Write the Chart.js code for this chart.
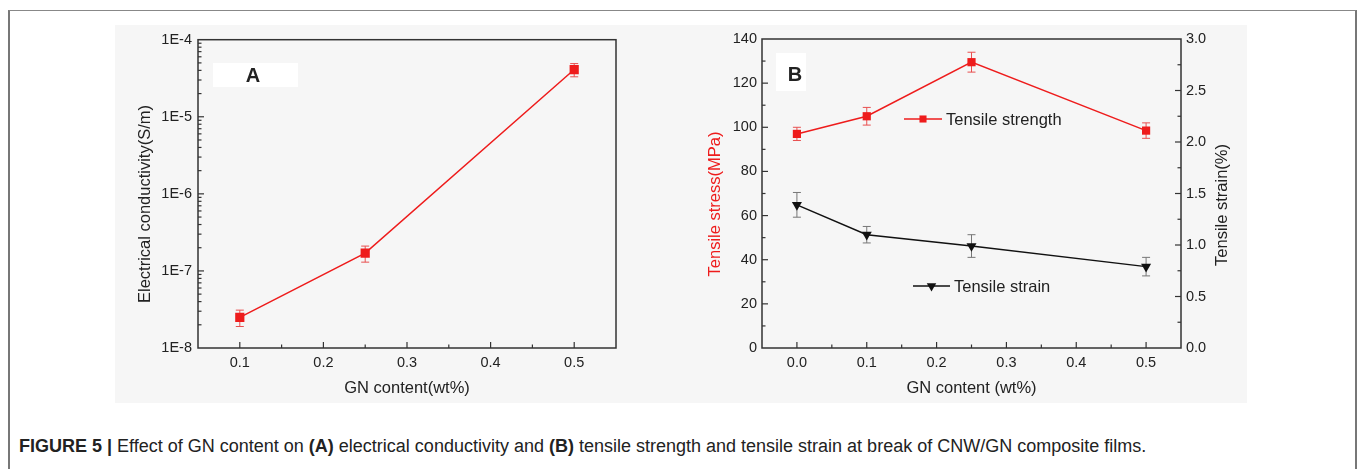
<!DOCTYPE html>
<html>
<head>
<meta charset="utf-8">
<script src="https://cdn.jsdelivr.net/npm/chart.js@4.4.0/dist/chart.umd.min.js"></script>
<style>
  body { margin: 0; background: #fff; width: 1360px; height: 469px; overflow: hidden; position: relative;
         font-family: "Liberation Sans", Arial, sans-serif; }
  #frame { position: absolute; left: 8px; top: 10px; width: 1345px; height: 480px;
           border-left: 2px solid #777; border-top: 1px solid #888; border-right: 2px solid #777; }
  #fig { position: absolute; left: 115px; top: 25px; width: 1132px; height: 378px; background: #f6f6f6; }
  #chartA { position: absolute; left: 115px; top: 25px; }
  #chartB { position: absolute; left: 660px; top: 25px; }
  #caption { position: absolute; left: 19px; top: 436px; font-size: 18px; color: #222; white-space: nowrap; }
  #caption b { font-weight: bold; }
</style>
</head>
<body>
<div id="frame"></div>
<div id="fig"></div>
<canvas id="chartA" width="545" height="378"></canvas>
<canvas id="chartB" width="587" height="378"></canvas>
<div id="caption"><b>FIGURE 5 |</b> Effect of GN content on <b>(A)</b> electrical conductivity and <b>(B)</b> tensile strength and tensile strain at break of CNW/GN composite films.</div>

<script>
// panel A: conductivity vs GN content
const gnA = [0.1, 0.25, 0.5];
const conductivity = [2.5e-8, 1.7e-7, 4.1e-5];
const conductivityErr = [0.6e-8, 0.4e-7, 0.8e-5];
const decadeExps = [-8, -7, -6, -5, -4];

// panel B: tensile stress / strain vs GN content
const gnB = [0, 0.1, 0.25, 0.5];
const strength = [97, 105, 129.5, 98.5];
const strengthErr = [3, 4, 4.5, 3.5];
const strain = [1.39, 1.1, 0.99, 0.79];
const strainErr = [0.12, 0.08, 0.11, 0.09];

const RED = "#ee1c1c";
const INK = "#222";
Chart.defaults.font.family = '"Liberation Sans", Arial, sans-serif';
Chart.defaults.color = INK;

const near = (v, step) => Math.abs(v / step - Math.round(v / step)) < 1e-6;

// log ticks 1..9 per decade
const logTicks = [];
decadeExps.forEach(e => {
  for (let m = 1; m <= 9; m++) {
    const v = m * Math.pow(10, e);
    if (v <= Math.pow(10, decadeExps[decadeExps.length - 1]) * 1.0001) logTicks.push(v);
  }
});

// error bars, drawn under the points
const errorBars = {
  id: "errorBars",
  beforeDatasetsDraw(chart) {
    const ctx = chart.ctx;
    chart.data.datasets.forEach((ds, i) => {
      if (!ds.errors) return;
      const meta = chart.getDatasetMeta(i);
      const ys = chart.scales[meta.yAxisID];
      ctx.save();
      ctx.strokeStyle = ds.errColor;
      ctx.lineWidth = 1;
      meta.data.forEach((pt, j) => {
        const v = ds.data[j].y, e = ds.errors[j];
        const top = ys.getPixelForValue(v + e), bot = ys.getPixelForValue(v - e);
        ctx.beginPath();
        ctx.moveTo(pt.x, top); ctx.lineTo(pt.x, bot);
        ctx.moveTo(pt.x - 4, top); ctx.lineTo(pt.x + 4, top);
        ctx.moveTo(pt.x - 4, bot); ctx.lineTo(pt.x + 4, bot);
        ctx.stroke();
      });
      ctx.restore();
    });
  }
};

// box frame, inward ticks, titles and free text
const deco = {
  id: "deco",
  beforeDatasetsDraw(chart, args, opts) {
    const ctx = chart.ctx, a = chart.chartArea;
    ctx.save();
    (opts.boxes || []).forEach(b => {
      ctx.fillStyle = "#fff";
      ctx.fillRect(b[0], b[1], b[2], b[3]);
    });
    ctx.strokeStyle = "#333";
    ctx.lineWidth = 1.5;
    ctx.strokeRect(a.left, a.top, a.right - a.left, a.bottom - a.top);
    ctx.lineWidth = 1.2;
    Object.values(chart.scales).forEach(s => {
      s.ticks.forEach(t => {
        const len = t.label ? 6 : 3.5;
        const p = s.getPixelForValue(t.value);
        ctx.beginPath();
        if (s.isHorizontal()) {
          if (p < a.left + 1 || p > a.right - 1) return;
          ctx.moveTo(p, a.bottom); ctx.lineTo(p, a.bottom - len);
        } else {
          if (p < a.top + 1 || p > a.bottom - 1) return;
          if (s.position === "right") { ctx.moveTo(a.right, p); ctx.lineTo(a.right - len, p); }
          else { ctx.moveTo(a.left, p); ctx.lineTo(a.left + len, p); }
        }
        ctx.stroke();
      });
    });
    ctx.restore();
  },
  afterDraw(chart, args, opts) {
    const ctx = chart.ctx;
    ctx.save();
    (opts.texts || []).forEach(t => {
      ctx.save();
      ctx.translate(t.x, t.y);
      if (t.rot) ctx.rotate(t.rot);
      ctx.font = t.font;
      ctx.fillStyle = t.color || INK;
      ctx.textAlign = t.align || "center";
      ctx.textBaseline = "middle";
      ctx.fillText(t.text, 0, 0);
      ctx.restore();
    });
    (opts.legend || []).forEach(l => {
      ctx.strokeStyle = l.color;
      ctx.fillStyle = l.color;
      ctx.lineWidth = 1.5;
      ctx.beginPath();
      ctx.moveTo(l.x0, l.y); ctx.lineTo(l.x1, l.y);
      ctx.stroke();
      Chart.helpers.drawPoint(ctx, { pointStyle: l.style, radius: l.r, rotation: l.rotation || 0, borderWidth: 0 },
        (l.x0 + l.x1) / 2, l.y);
      ctx.fillStyle = INK;
      ctx.font = "16.5px " + Chart.defaults.font.family;
      ctx.textAlign = "left";
      ctx.textBaseline = "middle";
      ctx.fillText(l.text, l.x1 + 4, l.y + 1);
    });
    ctx.restore();
  }
};

const tickFont = { size: 14.5 };
const titleFont = "16.5px " + Chart.defaults.font.family;
const noGrid = { display: false, drawTicks: false };

new Chart(document.getElementById("chartA"), {
  type: "line",
  data: {
    datasets: [{
      data: gnA.map((x, i) => ({ x, y: conductivity[i] })),
      errors: conductivityErr,
      errColor: "#e85050",
      borderColor: RED,
      backgroundColor: RED,
      borderWidth: 1.5,
      pointStyle: "rect",
      pointRadius: 6.5,
      pointBorderWidth: 0,
    }],
  },
  options: {
    responsive: false,
    animation: false,
    events: [],
    layout: { padding: { top: 14, right: 44 } },
    plugins: {
      legend: { display: false },
      tooltip: { enabled: false },
      deco: {
        boxes: [[98, 38, 85, 24]],
        texts: [
          { text: "A", x: 138, y: 51, font: "bold 20px " + Chart.defaults.font.family },
          { text: "Electrical conductivity(S/m)", x: 30, y: 179, rot: -Math.PI / 2, font: titleFont },
        ],
      },
    },
    scales: {
      x: {
        type: "linear", min: 0.05, max: 0.55,
        grid: noGrid, border: { display: false },
        ticks: { stepSize: 0.05, autoSkip: false, maxRotation: 0, padding: 6, font: tickFont,
                 callback: v => near(v, 0.1) ? v.toFixed(1) : "" },
        title: { display: true, text: "GN content(wt%)", font: { size: 16.5 }, padding: { top: 0, bottom: 5 } },
        afterFit: s => { s.height = 55; },
      },
      y: {
        type: "logarithmic", min: 1e-8, max: 1e-4,
        grid: noGrid, border: { display: false },
        afterBuildTicks: s => { s.ticks = logTicks.map(v => ({ value: v })); },
        ticks: { autoSkip: false, padding: 6, font: tickFont,
                 callback: v => { const e = Math.log10(v); return Math.abs(e - Math.round(e)) < 1e-6 ? "1E" + Math.round(e) : ""; } },
        afterFit: s => { s.width = 83; },
      },
    },
  },
  plugins: [deco, errorBars],
});

new Chart(document.getElementById("chartB"), {
  type: "line",
  data: {
    datasets: [
      {
        data: gnB.map((x, i) => ({ x, y: strength[i] })),
        yAxisID: "y",
        errors: strengthErr,
        errColor: "#e85050",
        borderColor: RED,
        backgroundColor: RED,
        borderWidth: 1.5,
        pointStyle: "rect",
        pointRadius: 5.8,
        pointBorderWidth: 0,
      },
      {
        data: gnB.map((x, i) => ({ x, y: strain[i] })),
        yAxisID: "y2",
        errors: strainErr,
        errColor: "#777",
        borderColor: "#111",
        backgroundColor: "#111",
        borderWidth: 1.5,
        pointStyle: "triangle",
        pointRotation: 180,
        pointRadius: 5.8,
        pointBorderWidth: 0,
      },
    ],
  },
  options: {
    responsive: false,
    animation: false,
    events: [],
    layout: { padding: { top: 14 } },
    plugins: {
      legend: { display: false },
      tooltip: { enabled: false },
      deco: {
        boxes: [[116, 28, 30, 38]],
        texts: [
          { text: "B", x: 135, y: 50, font: "bold 20px " + Chart.defaults.font.family },
          { text: "Tensile stress(MPa)", x: 55, y: 179, rot: -Math.PI / 2, font: titleFont, color: RED },
          { text: "Tensile strain(%)", x: 562, y: 180, rot: -Math.PI / 2, font: titleFont },
        ],
        legend: [
          { text: "Tensile strength", x0: 244, x1: 282, y: 94, color: RED, style: "rect", r: 5 },
          { text: "Tensile strain", x0: 253, x1: 290, y: 261, color: "#111", style: "triangle", r: 5.5, rotation: 180 },
        ],
      },
    },
    scales: {
      x: {
        type: "linear", min: -0.05, max: 0.55,
        grid: noGrid, border: { display: false },
        ticks: { stepSize: 0.05, autoSkip: false, maxRotation: 0, padding: 6, font: tickFont,
                 callback: v => near(v, 0.1) ? v.toFixed(1) : "" },
        title: { display: true, text: "GN content (wt%)", font: { size: 16.5 }, padding: { top: 0, bottom: 5 } },
        afterFit: s => { s.height = 55; },
      },
      y: {
        position: "left", min: 0, max: 140,
        grid: noGrid, border: { display: false },
        ticks: { stepSize: 10, autoSkip: false, padding: 5, font: tickFont,
                 callback: v => near(v, 20) ? String(Math.round(v)) : "" },
        afterFit: s => { s.width = 102; },
      },
      y2: {
        position: "right", min: 0, max: 3,
        grid: noGrid, border: { display: false },
        ticks: { stepSize: 0.25, autoSkip: false, padding: 5, font: tickFont,
                 callback: v => near(v, 0.5) ? v.toFixed(1) : "" },
        afterFit: s => { s.width = 66; },
      },
    },
  },
  plugins: [deco, errorBars],
});
</script>
</body>
</html>
